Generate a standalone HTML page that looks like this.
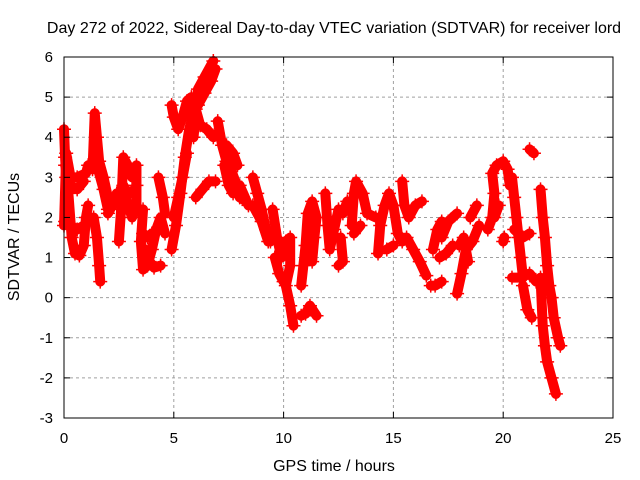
<!DOCTYPE html>
<html><head><meta charset="utf-8"><style>
html,body{margin:0;padding:0;background:#fff}
svg{display:block;font-family:"Liberation Sans",sans-serif}
</style></head><body>
<svg id="chart" width="640" height="480" viewBox="0 0 640 480">
<text x="334" y="33" font-size="16" text-anchor="middle">Day 272 of 2022, Sidereal Day-to-day VTEC variation (SDTVAR) for receiver lord</text>
<text x="0" y="0" font-size="16" text-anchor="middle" transform="translate(19,237) rotate(-90)">SDTVAR / TECUs</text>
<text x="334" y="471" font-size="16" text-anchor="middle">GPS time / hours</text>
<g id="grid"></g>
<g id="marks"></g>
<g id="axes"></g>
</svg>
<script>
const xTicks=[0,5,10,15,20,25];
const yTicks=[-3,-2,-1,0,1,2,3,4,5,6];
const tracks=[
[[0,1.8],[0.1,3.6],[0.3,3.0],[0.6,3.0],[1.0,3.1],[1.1,3.3]],
[[0.05,3.3],[0.3,2.8],[0.6,2.7],[0.9,2.9]],
[[0.2,2.6],[0.35,1.5],[0.5,1.1],[0.7,1.05],[0.9,1.3],[1.0,2.0],[1.1,2.3]],
[[0.05,1.9],[0.3,1.8],[0.6,1.7],[0.9,1.8]],
[[0.0,4.2],[0.05,3.5],[0.1,3.0]],
[[1.3,3.2],[1.4,4.6],[1.5,4.0],[1.6,3.4],[1.8,3.0],[2.0,2.5],[2.2,2.3]],
[[1.45,3.6],[1.6,3.1],[1.8,2.7],[2.0,2.2]],
[[1.35,2.0],[1.5,1.5],[1.6,0.8],[1.65,0.4]],
[[2.0,2.1],[2.2,2.3],[2.4,2.6]],
[[2.5,1.4],[2.6,2.2],[2.7,3.5],[2.9,3.3],[3.1,3.0],[3.3,3.3],[3.3,2.3],[3.1,2.0],[2.8,2.5]],
[[2.7,2.8],[2.9,2.6],[3.1,2.6],[3.3,2.8]],
[[3.6,2.2],[3.5,1.4],[3.6,0.7],[3.8,0.8],[4.0,1.2],[4.2,1.7],[4.4,2.0],[4.6,1.6]],
[[3.7,1.2],[3.9,0.9],[4.1,0.75],[4.4,0.8]],
[[3.6,1.6],[3.8,1.5],[4.0,1.6]],
[[4.3,3.0],[4.5,2.5],[4.6,2.1]],
[[4.9,1.2],[5.1,1.8],[5.3,2.6],[5.5,3.5],[5.7,4.2],[5.9,4.6],[6.0,4.9]],
[[5.0,2.0],[5.2,2.5],[5.4,3.0],[5.6,3.6]],
[[4.9,4.8],[5.0,4.5],[5.2,4.2],[5.4,4.5],[5.6,4.9],[5.8,5.0]],
[[5.9,4.0],[6.1,5.2],[6.4,5.5],[6.8,5.9]],
[[6.1,4.8],[6.4,5.1],[6.7,5.4],[6.9,5.7]],
[[6.0,4.7],[6.2,4.3],[6.5,4.2],[6.8,4.0],[7.0,4.1]],
[[6.0,2.5],[6.3,2.7],[6.6,2.9],[6.9,2.9]],
[[7.0,4.4],[7.2,3.8],[7.4,3.4],[7.6,3.2],[7.8,2.9],[8.0,2.5],[8.3,2.4]],
[[7.3,3.3],[7.5,2.8],[7.7,2.6],[8.0,2.8],[8.4,2.3]],
[[7.4,3.8],[7.7,3.6],[7.9,3.3]],
[[8.6,3.0],[8.8,2.6],[9.0,2.2],[9.2,1.7],[9.4,1.4]],
[[8.6,2.3],[9.0,1.9],[9.3,1.4]],
[[9.5,2.2],[9.7,1.5],[9.9,1.0],[10.1,1.4],[10.3,1.5],[10.3,0.8],[10.1,0.3],[10.3,-0.2],[10.45,-0.7]],
[[9.6,1.0],[9.8,0.6],[10.0,0.4]],
[[10.8,-0.45],[11.0,-0.4],[11.2,-0.2],[11.5,-0.45]],
[[10.8,0.3],[10.9,0.8],[11.0,1.3],[11.1,2.1],[11.3,2.4],[11.5,2.0],[11.4,1.5],[11.3,0.9]],
[[11.9,2.6],[12.0,1.8],[12.1,1.2],[12.3,1.7],[12.5,2.2],[12.7,2.1],[12.9,2.4]],
[[12.6,1.5],[12.7,0.9],[12.5,0.8]],
[[13.1,1.8],[13.2,2.6],[13.3,2.9],[13.6,2.6],[13.8,2.1],[14.2,2.0]],
[[13.5,1.8],[13.2,1.6]],
[[14.3,1.1],[14.4,1.8],[14.6,2.3],[14.8,2.6],[15.0,2.3],[15.2,1.6],[15.4,1.4]],
[[14.7,1.2],[15.0,1.3]],
[[15.4,2.9],[15.5,2.3],[15.7,2.0],[16.0,2.3],[16.3,2.4]],
[[15.6,1.5],[15.9,1.2],[16.2,0.9],[16.5,0.55]],
[[16.7,0.3],[16.9,0.3],[17.2,0.4]],
[[16.8,1.2],[17.0,1.7],[17.2,1.9]],
[[17.1,1.0],[17.4,1.1],[17.7,1.3]],
[[17.2,1.5],[17.5,1.9],[17.9,2.1]],
[[17.9,0.1],[18.1,0.6],[18.3,1.2],[18.6,1.4],[18.9,1.8]],
[[18.4,0.9],[18.2,1.5],[18.0,1.3]],
[[18.5,2.0],[18.8,2.3]],
[[19.3,1.7],[19.5,2.0],[19.6,2.6],[19.5,3.1],[19.7,3.3],[20.0,3.4],[20.2,3.2],[20.3,2.8]],
[[19.6,2.0],[19.8,2.3]],
[[20.0,1.4],[20.05,1.5]],
[[20.4,3.0],[20.5,2.5],[20.6,2.0],[20.7,1.5],[20.8,1.0],[20.9,0.5]],
[[20.4,0.5],[20.8,0.5],[21.2,0.6],[21.5,0.4]],
[[20.9,0.3],[21.1,-0.3],[21.3,-0.5]],
[[20.5,1.7],[20.9,1.5],[21.2,1.6]],
[[21.2,3.7],[21.4,3.6]],
[[21.7,2.7],[21.8,2.0],[21.9,1.5],[22.0,0.8],[22.1,0.3],[22.2,0.0],[22.3,-0.5],[22.5,-1.0],[22.6,-1.2]],
[[21.7,0.5],[21.8,-0.7],[21.9,-1.2],[22.0,-1.6],[22.2,-2.0],[22.4,-2.4]]
];
const L=64,R=613,T=57,B=418,xMin=0,xMax=25,yMin=-3,yMax=6;
const NS="http://www.w3.org/2000/svg";
function sx(t){return L+(t-xMin)/(xMax-xMin)*(R-L);}
function sy(v){return B-(v-yMin)/(yMax-yMin)*(B-T);}
function mk(tag,attrs,parent){const e=document.createElementNS(NS,tag);for(const k in attrs)e.setAttribute(k,attrs[k]);parent.appendChild(e);return e;}
const grid=document.getElementById('grid'),axes=document.getElementById('axes'),marks=document.getElementById('marks');
xTicks.forEach(t=>{const x=sx(t);
 if(t>xMin&&t<xMax){const g=mk('line',{x1:x,y1:T,x2:x,y2:B,stroke:'#a0a0a0','stroke-dasharray':'3,3'},grid);
 
 }
 mk('line',{x1:x,y1:B,x2:x,y2:B-6,stroke:'#000'},axes);
 mk('line',{x1:x,y1:T,x2:x,y2:T+6,stroke:'#000'},axes);
 const lb=mk('text',{x:x,y:443,'font-size':'15','text-anchor':'middle'},axes);lb.textContent=t;
 
 
});
yTicks.forEach(v=>{const y=sy(v);
 if(v>yMin&&v<yMax){const g=mk('line',{x1:L,y1:y,x2:R,y2:y,stroke:'#a0a0a0','stroke-dasharray':'3,3'},grid);
 
 }
 mk('line',{x1:L,y1:y,x2:L+6,y2:y,stroke:'#000'},axes);
 mk('line',{x1:R,y1:y,x2:R-6,y2:y,stroke:'#000'},axes);
 const lb=mk('text',{x:53,y:y+5,'font-size':'15','text-anchor':'end'},axes);lb.textContent=v;
 
 
});
const fr=mk('rect',{x:L,y:T,width:R-L,height:B-T,fill:'none',stroke:'#000'},axes);


tracks.forEach(tr=>{
 const pl=mk('polyline',{points:tr.map(p=>sx(p[0])+','+sy(p[1])).join(' '),fill:'none',stroke:'#ff0000','stroke-width':'10','stroke-linejoin':'round','stroke-linecap':'round'},marks);
 
 
 tr.forEach(p=>{const x=sx(p[0]),y=sy(p[1]);
  const m=mk('path',{d:`M${x-7},${y}H${x+7}M${x},${y-7}V${y+7}`,stroke:'#ff0000','stroke-width':'1.5'},marks);
  
  
 });
});
</script>
</body></html>
